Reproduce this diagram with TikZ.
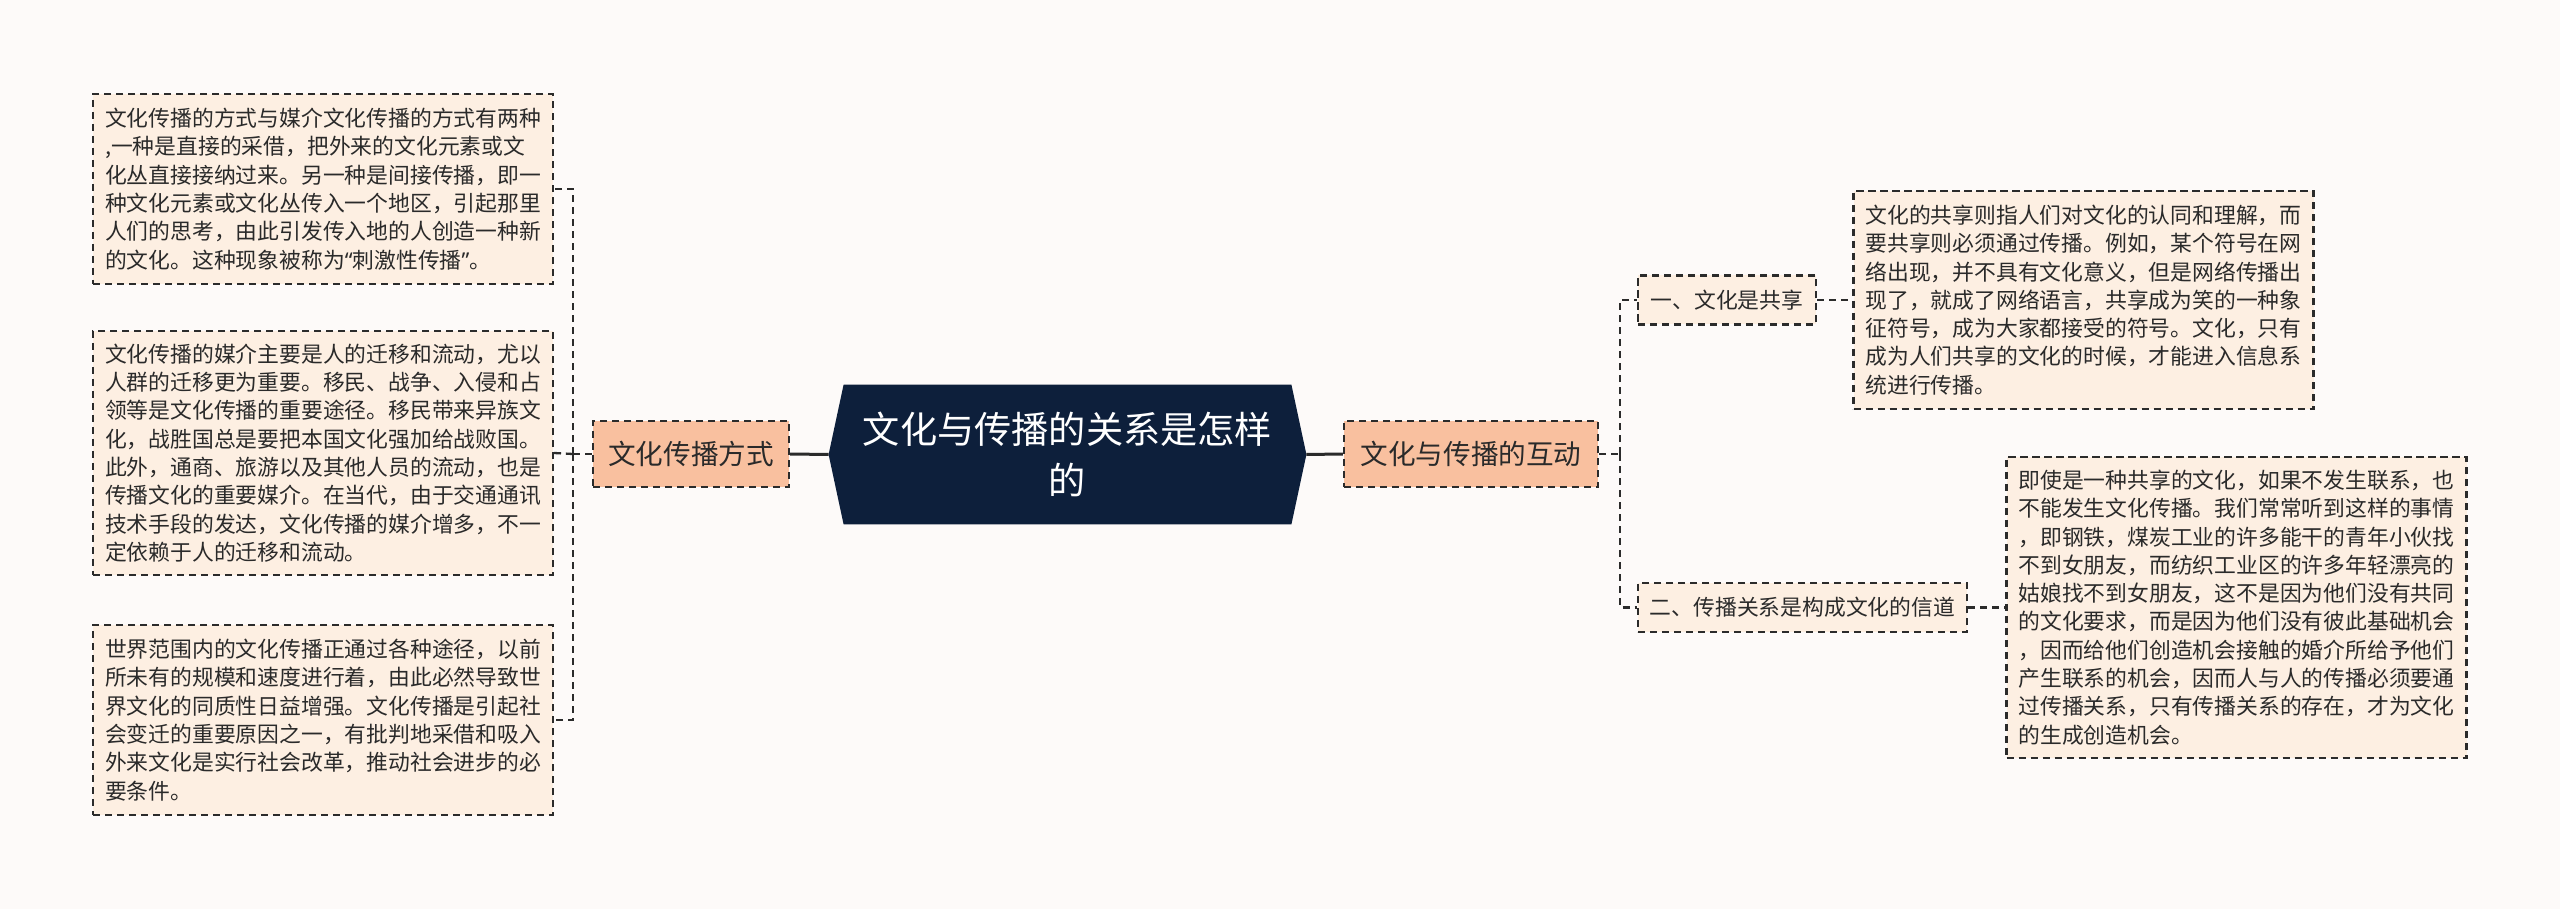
\documentclass[tikz,border=0pt]{standalone}
\usepackage{fontspec}
\setmainfont{Noto Sans CJK SC}
\newfontfamily\latq{Noto Sans}
\usetikzlibrary{calc,backgrounds}
\definecolor{bgc}{HTML}{FDFAF9}
\definecolor{peach}{HTML}{FDEFE2}
\definecolor{salmon}{HTML}{F9C09F}
\definecolor{navy}{HTML}{0D1F3B}
\definecolor{dk}{HTML}{2B2B2B}
\definecolor{txt}{HTML}{2A2A2A}
\tikzset{
  dline/.style={draw=dk, line width=1.15pt, dash pattern=on 3.6pt off 2.4pt},
  sline/.style={draw=dk, line width=1.5pt},
  textbox/.style={dline, fill=peach, text=txt, align=left, text width=218pt,
    inner xsep=6pt, inner ysep=0pt, font=\fontsize{10.9pt}{14.15pt}\selectfont},
  smallbox/.style={dline, fill=peach, text=txt, inner sep=0pt, minimum height=24.5pt,
    font=\fontsize{10.9pt}{14.15pt}\selectfont},
  midbox/.style={dline, fill=salmon, text=txt, inner sep=0pt, minimum height=33pt,
    font=\fontsize{13.8pt}{16pt}\selectfont},
  titlebox/.style={text=white, align=center, inner sep=0pt, minimum width=238.5pt,
    minimum height=69.5pt, font=\fontsize{18.6pt}{25.5pt}\selectfont}
}
\begin{document}
\begin{tikzpicture}[x=0.5pt,y=-0.5pt]
\useasboundingbox (0,0) rectangle (2560,909);
% central
\node[titlebox] (c) at (1067.5,454.5) {文化与传播的关系是怎样\\的};
% first level
\node[midbox, minimum width=98pt] (fs) at (691,454) {文化传播方式};
\node[midbox, minimum width=127pt] (hd) at (1471,454) {文化与传播的互动};
% left text boxes
\node[textbox, minimum height=95pt] (L1) at (323,189) {文化传播的方式与媒介文化传播的方式有两种\\
,一种是直接的采借，把外来的文化元素或文\\
化丛直接接纳过来。另一种是间接传播，即一\\
种文化元素或文化丛传入一个地区，引起那里\\
人们的思考，由此引发传入地的人创造一种新\\
的文化。这种现象被称为{\latq “}刺激性传播{\latq ”}。};
\node[textbox, minimum height=122pt] (L2) at (323,453) {文化传播的媒介主要是人的迁移和流动，尤以\\
人群的迁移更为重要。移民、战争、入侵和占\\
领等是文化传播的重要途径。移民带来异族文\\
化，战胜国总是要把本国文化强加给战败国。\\
此外，通商、旅游以及其他人员的流动，也是\\
传播文化的重要媒介。在当代，由于交通通讯\\
技术手段的发达，文化传播的媒介增多，不一\\
定依赖于人的迁移和流动。};
\node[textbox, minimum height=95pt] (L3) at (323,720) {世界范围内的文化传播正通过各种途径，以前\\
所未有的规模和速度进行着，由此必然导致世\\
界文化的同质性日益增强。文化传播是引起社\\
会变迁的重要原因之一，有批判地采借和吸入\\
外来文化是实行社会改革，推动社会进步的必\\
要条件。};
% right second level
\node[smallbox, minimum width=89pt] (s1) at (1727,300) {一、文化是共享};
\node[smallbox, minimum width=164.5pt] (s2) at (1802.5,607.5) {二、传播关系是构成文化的信道};
% right text boxes
\node[textbox, minimum height=109pt] (R1) at (2083.5,300) {文化的共享则指人们对文化的认同和理解，而\\
要共享则必须通过传播。例如，某个符号在网\\
络出现，并不具有文化意义，但是网络传播出\\
现了，就成了网络语言，共享成为笑的一种象\\
征符号，成为大家都接受的符号。文化，只有\\
成为人们共享的文化的时候，才能进入信息系\\
统进行传播。};
\node[textbox, minimum height=150.5pt] (R2) at (2236.5,607.5) {即使是一种共享的文化，如果不发生联系，也\\
不能发生文化传播。我们常常听到这样的事情\\
，即钢铁，煤炭工业的许多能干的青年小伙找\\
不到女朋友，而纺织工业区的许多年轻漂亮的\\
姑娘找不到女朋友，这不是因为他们没有共同\\
的文化要求，而是因为他们没有彼此基础机会\\
，因而给他们创造机会接触的婚介所给予他们\\
产生联系的机会，因而人与人的传播必须要通\\
过传播关系，只有传播关系的存在，才为文化\\
的生成创造机会。};
% background and central shape
\begin{scope}[on background layer]
\fill[bgc] (0,0) rectangle (2560,909);
\fill[navy] (c.west) -- ($(c.north west)+(15,0)$) -- ($(c.north east)+(-15,0)$)
  -- (c.east) -- ($(c.south east)+(-15,0)$) -- ($(c.south west)+(15,0)$) -- cycle;
\end{scope}
% connectors
\draw[sline] (fs.east) -- (c.west);
\draw[sline] (c.east) -- (hd.west);
\coordinate (lb) at (573,454);
\draw[dline] (fs.west) -- (lb);
\draw[dline] (lb) |- (L1.east);
\draw[dline] (lb) -- (L2.east);
\draw[dline] (lb) |- (L3.east);
\coordinate (rb) at (1620,454);
\draw[dline] (hd.east) -- (rb);
\draw[dline] (rb) |- (s1.west);
\draw[dline] (rb) |- (s2.west);
\draw[dline] (s1.east) -- (R1.west);
\draw[dline] (s2.east) -- (R2.west);
\end{tikzpicture}
\end{document}
